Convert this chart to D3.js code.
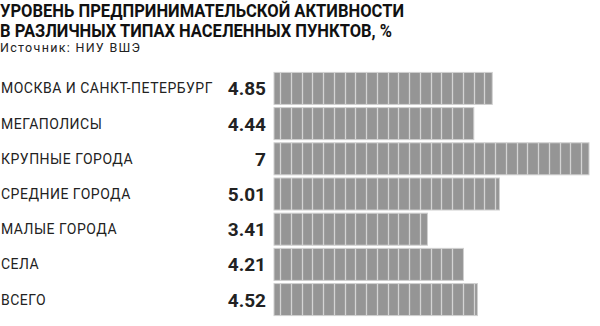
<!DOCTYPE html>
<html>
<head>
<meta charset="utf-8">
<script src="https://cdn.jsdelivr.net/npm/d3@7"></script>
<style>
  body { margin: 0; background: #fff; }
  svg { display: block; }
</style>
</head>
<body>
<div id="chart"></div>
<script>
const titleLines = ['УРОВЕНЬ ПРЕДПРИНИМАТЕЛЬСКОЙ АКТИВНОСТИ', 'В РАЗЛИЧНЫХ ТИПАХ НАСЕЛЕННЫХ ПУНКТОВ, %']
const titleWidths = [404, 392]
const sourceText = 'Источник: НИУ ВШЭ'
const categories = ['МОСКВА И САНКТ-ПЕТЕРБУРГ', 'МЕГАПОЛИСЫ', 'КРУПНЫЕ ГОРОДА', 'СРЕДНИЕ ГОРОДА', 'МАЛЫЕ ГОРОДА', 'СЕЛА', 'ВСЕГО']
const values = [4.85, 4.44, 7, 5.01, 3.41, 4.21, 4.52]
const valueLabels = ['4.85', '4.44', '7', '5.01', '3.41', '4.21', '4.52']

const width = 600
const height = 326
const barLeft = 274

const svg = d3.select('#chart').append('svg').attr('width', width).attr('height', height)

const x = d3.scaleLinear().domain([0, 7]).range([barLeft, 589])
const y = d3.scaleBand().domain(categories).range([71, 317]).paddingInner(0.09).paddingOuter(0.04)

// title, squeezed to look like the condensed original
svg.selectAll('text.title')
  .data(titleLines)
  .enter()
  .append('text')
  .attr('class', 'title')
  .attr('x', 0)
  .attr('y', function (d, i) { return 17 + i * 19.5 })
  .attr('font-family', 'Roboto')
  .attr('font-weight', 'bold')
  .attr('font-size', 17.5)
  .attr('textLength', function (d, i) { return titleWidths[i] })
  .attr('lengthAdjust', 'spacingAndGlyphs')
  .attr('fill', '#111')
  .text(function (d) { return d })

svg.append('text')
  .attr('x', 0)
  .attr('y', 52)
  .attr('font-family', 'Roboto')
  .attr('font-size', 12.5)
  .attr('textLength', 140)
  .attr('lengthAdjust', 'spacing')
  .attr('fill', '#222')
  .text(sourceText)

const rows = svg.selectAll('g.row')
  .data(categories)
  .enter()
  .append('g')
  .attr('class', 'row')

rows.append('text')
  .attr('x', 1)
  .attr('y', function (d) { return y(d) + y.bandwidth() / 2 + 5 })
  .attr('font-family', 'Roboto')
  .attr('font-size', 14)
  .attr('letter-spacing', 0.5)
  .attr('fill', '#222')
  .text(function (d) { return d })

rows.append('text')
  .attr('x', 266)
  .attr('y', function (d) { return y(d) + y.bandwidth() / 2 + 7 })
  .attr('text-anchor', 'end')
  .attr('font-family', 'Roboto')
  .attr('font-weight', 'bold')
  .attr('font-size', 19)
  .attr('fill', '#222')
  .text(function (d, i) { return valueLabels[i] })

rows.append('rect')
  .attr('x', barLeft)
  .attr('y', function (d) { return y(d) })
  .attr('width', function (d, i) { return x(values[i]) - barLeft })
  .attr('height', y.bandwidth())
  .attr('fill', '#959595')
  .attr('stroke', '#cfcfcf')
  .attr('stroke-width', 1)

// light dividers inside each bar
const step = 10.75
rows.each(function (d, i) {
  const end = x(values[i])
  const ticks = d3.range(barLeft + 6, end - 2, step)
  d3.select(this).selectAll('line')
    .data(ticks)
    .enter()
    .append('line')
    .attr('x1', function (t) { return Math.round(t) + 0.5 })
    .attr('x2', function (t) { return Math.round(t) + 0.5 })
    .attr('y1', y(d))
    .attr('y2', y(d) + y.bandwidth())
    .attr('stroke', '#d4d4d4')
    .attr('stroke-width', 1.3)
})
</script>
</body>
</html>
